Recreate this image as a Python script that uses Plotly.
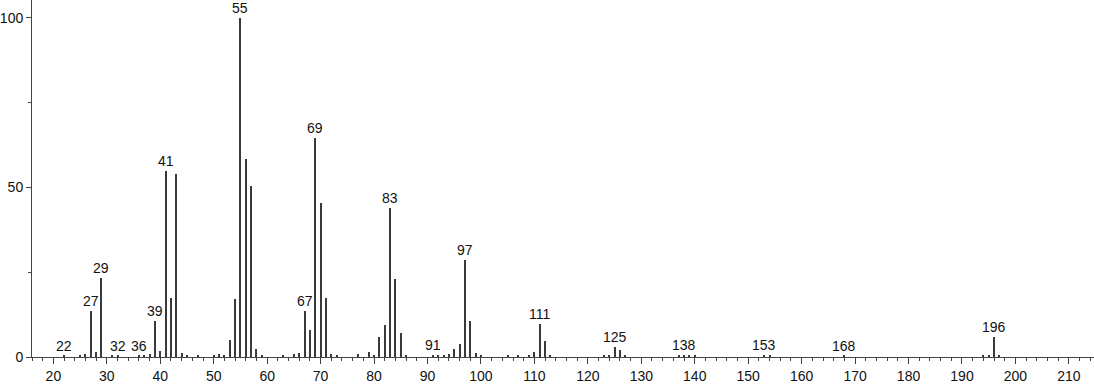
import plotly.graph_objects as go

mz = [22, 25, 26, 27, 28, 29, 31, 32, 36, 37, 38, 39, 40, 41, 42, 43, 44, 45, 47, 50, 51, 52,
      53, 54, 55, 56, 57, 58, 59, 63, 65, 66, 67, 68, 69, 70, 71, 72, 73, 77, 79, 80, 81, 82,
      83, 84, 85, 86, 91, 92, 93, 94, 95, 96, 97, 98, 99, 100, 105, 107, 109, 110, 111, 112,
      113, 123, 124, 125, 126, 127, 137, 138, 139, 140, 153, 154, 168, 194, 195, 196, 197]
intensity = [0.4, 0.3, 1.0, 13.7, 1.5, 23.4, 0.3, 0.4, 0.4, 0.5, 0.8, 10.5, 1.8, 54.7, 17.5, 54.0,
             1.2, 0.5, 0.4, 0.5, 0.8, 0.6, 5.0, 17.0, 100.0, 58.5, 50.3, 2.3, 0.3, 0.3, 1.0, 1.3,
             13.7, 7.9, 64.6, 45.3, 17.3, 1.0, 0.3, 0.8, 1.5, 0.5, 5.8, 9.4, 43.9, 23.0, 7.0,
             0.5, 0.5, 0.3, 0.5, 0.8, 2.3, 3.8, 28.6, 10.5, 1.2, 0.3, 0.3, 0.3, 0.5, 1.5, 9.6,
             4.7, 0.5, 0.4, 0.6, 3.0, 2.2, 0.4, 0.3, 0.5, 0.3, 0.3, 0.5, 0.3, 0.3, 0.4, 0.6,
             5.8, 0.6]
labeled = [22, 27, 29, 32, 36, 39, 41, 55, 67, 69, 83, 91, 97, 111, 125, 138, 153, 168, 196]

x_ticks = list(range(20, 211, 10))
y_ticks = [0, 50, 100]

lookup = dict(zip(mz, intensity))

fig = go.Figure()
fig.add_trace(go.Bar(x=mz, y=intensity, width=0.19,
                     marker=dict(color="#3a3a3a", line=dict(width=0)),
                     hoverinfo="x+y"))

for m in labeled:
    fig.add_annotation(x=m, y=lookup.get(m, 0), text=str(m), showarrow=False,
                       yanchor="bottom", yshift=0,
                       font=dict(family="Liberation Sans, Arial, sans-serif", size=14, color="#111"))

fig.update_layout(
    width=1094, height=384,
    margin=dict(l=31, r=0, t=0, b=24),
    paper_bgcolor="white", plot_bgcolor="white",
    showlegend=False, bargap=0,
    font=dict(family="Liberation Sans, Arial, sans-serif", size=14, color="#111"),
)
fig.update_xaxes(range=[16, 214.7], tickvals=x_ticks, ticks="outside", ticklen=6,
                 tickcolor="#444", showline=True, linecolor="#444", linewidth=1,
                 showgrid=False, zeroline=False, tickfont=dict(size=14),
                 minor=dict(dtick=2, tick0=0, ticks="outside", ticklen=3, tickcolor="#444", showgrid=False))
fig.update_yaxes(range=[0, 105.26], tickvals=y_ticks, ticks="outside", ticklen=5,
                 tickcolor="#444", showline=True, linecolor="#444", linewidth=1,
                 showgrid=False, zeroline=False, tickfont=dict(size=14),
                 minor=dict(tickvals=[25, 75], ticks="outside", ticklen=3, tickcolor="#444", showgrid=False))

fig.write_html("out.html")
